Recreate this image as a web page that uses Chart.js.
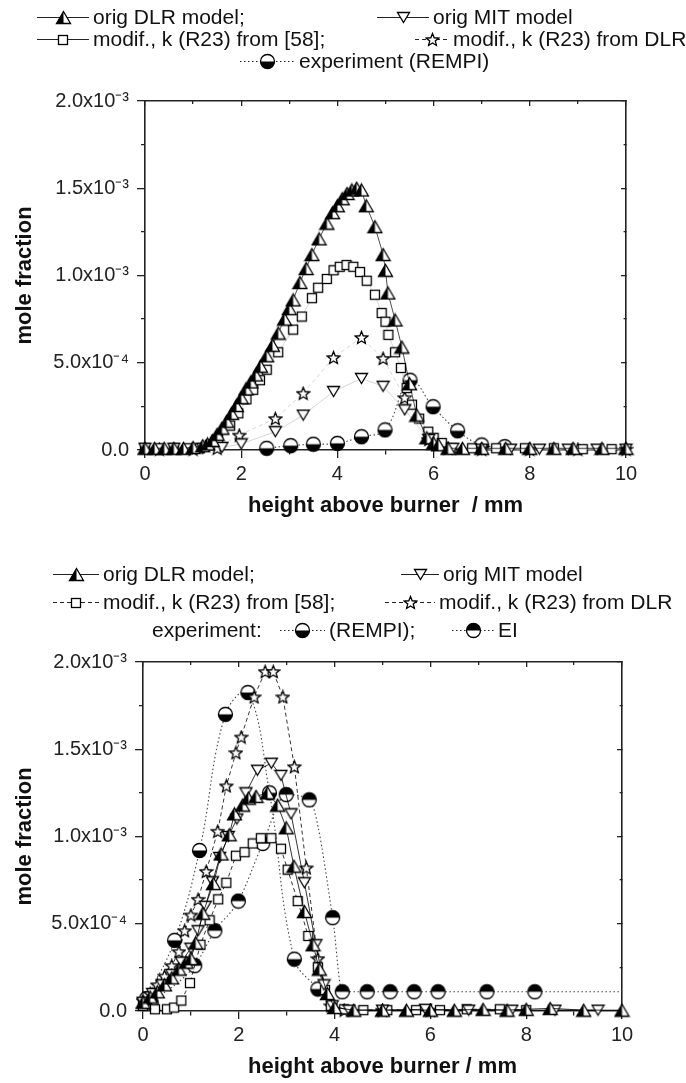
<!DOCTYPE html>
<html>
<head>
<meta charset="utf-8">
<title>mole fraction profiles</title>
<script src="https://cdn.jsdelivr.net/npm/chart.js@4.4.1/dist/chart.umd.min.js"></script>
<style>
  html, body { margin: 0; padding: 0; background: #fff; }
  body { position: relative; width: 686px; height: 1083px; overflow: hidden;
         font-family: 'Liberation Sans', Arial, Helvetica, sans-serif; color: #111; }
  canvas.chart { position: absolute; left: 0; }
  .leg { position: absolute; height: 24px; display: flex; align-items: center;
         font-size: 21px; white-space: nowrap; }
  .leg canvas { margin-right: 4px; }
</style>
</head>
<body>
<canvas id="topChart" class="chart" width="686" height="540" style="top:0"></canvas>
<canvas id="bottomChart" class="chart" width="686" height="543" style="top:540px"></canvas>
<script>
// y values below are in units of 1e-4 (mole fraction), x in mm

// upper panel
const dlr1X = [0, 0.2, 0.4, 0.6, 0.8, 1.0, 1.2, 1.3, 1.4, 1.5, 1.6, 1.7, 1.8, 1.9, 2.0, 2.1, 2.2, 2.3, 2.4, 2.53,
               2.65, 2.77, 2.9, 3.0, 3.08, 3.22, 3.35, 3.47, 3.62, 3.78, 3.9, 4.0, 4.1, 4.2, 4.3, 4.4, 4.5, 4.6, 4.78, 4.95,
               5.0, 5.05, 5.2, 5.34, 5.5, 5.65, 5.86, 6.0, 6.1, 6.3, 6.6, 7.0, 7.5, 8.0, 8.5, 8.9, 9.5, 10.0];
const dlr1Y = [0.1, 0.1, 0.1, 0.1, 0.1, 0.15, 0.25, 0.35, 0.55, 0.9, 1.25, 1.65, 2.1, 2.55, 3.0, 3.5, 3.9, 4.3, 4.8, 5.4,
               6.0, 6.7, 7.5, 8.1, 8.6, 9.6, 10.4, 11.2, 12.1, 13.0, 13.6, 14.0, 14.4, 14.7, 14.9, 15.0, 14.9, 14.0, 12.8, 11.2,
               10.3, 9.0, 7.45, 5.9, 3.8, 2.0, 0.7, 0.4, 0.3, 0.1, 0.1, 0.1, 0.1, 0.1, 0.1, 0.1, 0.1, 0.1];
const mit1X = [0, 0.6, 1.2, 1.6, 2.0, 2.71, 3.29, 3.92, 4.5, 4.95, 5.4, 5.9, 6.4, 7.0, 7.6, 8.2, 8.8, 9.4, 10.0];
const mit1Y = [0.1, 0.1, 0.1, 0.15, 0.35, 1.05, 2.0, 3.35, 4.1, 3.65, 2.3, 0.6, 0.1, 0.05, 0.05, 0.05, 0.05, 0.05, 0.05];
const sq1X = [0, 0.3, 0.6, 0.9, 1.14, 1.35, 1.52, 1.77, 1.94, 2.11, 2.25, 2.39, 2.53, 2.77, 3.08, 3.26, 3.47, 3.6, 3.78, 3.92,
              4.05, 4.19, 4.33, 4.47, 4.61, 4.78, 4.92, 5.0, 5.06, 5.2, 5.32, 5.44, 5.55, 5.7, 5.89, 6.0, 6.17, 6.37, 6.8, 7.3,
              7.9, 8.5, 9.1, 9.7];
const sq1Y = [0.1, 0.1, 0.1, 0.1, 0.1, 0.3, 0.6, 1.4, 2.1, 2.9, 3.45, 4.0, 4.6, 5.6, 6.9, 7.65, 8.7, 9.3, 9.8, 10.3,
              10.5, 10.6, 10.5, 10.2, 9.7, 8.9, 7.85, 7.35, 6.6, 5.6, 4.7, 3.55, 2.6, 1.8, 1.05, 0.7, 0.4, 0.1, 0.1, 0.1,
              0.1, 0.1, 0.05, 0.05];
const star1X = [0.3, 1.0, 1.5, 1.96, 2.71, 3.29, 3.92, 4.5, 4.95, 5.4, 5.9, 6.3, 7.0, 8.0, 9.0, 10.0];
const star1Y = [0.05, 0.05, 0.1, 0.85, 1.8, 3.25, 5.3, 6.45, 5.25, 3.0, 0.6, 0.1, 0.05, 0.05, 0.05, 0.05];
const rempi1X = [2.53, 3.03, 3.5, 4.0, 4.5, 4.99, 5.51, 5.99, 6.5, 7.0, 7.48];
const rempi1Y = [0.1, 0.25, 0.33, 0.38, 0.76, 1.15, 4.0, 2.48, 1.1, 0.29, 0.19];

// lower panel
const dlr2X = [0, 0.15, 0.3, 0.45, 0.6, 0.75, 0.9, 1.0, 1.1, 1.25, 1.47, 1.63, 1.8, 1.91, 2.08, 2.2, 2.36, 2.6, 2.81, 2.99,
               3.15, 3.37, 3.55, 3.68, 3.85, 4.0, 4.4, 5.0, 5.5, 6.0, 6.5, 7.1, 7.6, 8.0, 8.5, 9.2, 10.0];
const dlr2Y = [0.5, 0.8, 1.1, 1.5, 1.9, 2.4, 2.8, 3.0, 3.9, 5.6, 7.3, 9.0, 10.1, 11.3, 11.8, 12.2, 12.3, 12.5, 11.8, 10.5,
               8.3, 5.7, 3.8, 2.4, 1.0, 0.2, 0.05, 0.05, 0.05, 0.05, 0.05, 0.1, 0.05, 0.1, 0.15, 0.05, 0.05];
const mit2X = [0, 0.2, 0.4, 0.6, 0.8, 1.0, 1.15, 1.3, 1.45, 1.6, 1.78, 1.96, 2.15, 2.39, 2.68, 2.88, 3.09, 3.37, 3.61, 3.78,
               3.95, 4.3, 5.0, 5.9, 6.8, 7.7, 8.6, 9.5];
const mit2Y = [0.5, 1.0, 1.5, 2.1, 2.8, 3.6, 4.6, 6.0, 7.4, 8.8, 10.0, 11.0, 12.5, 13.8, 14.2, 13.5, 11.3, 7.35, 3.8, 1.5,
               0.3, 0.05, 0.05, 0.1, 0.05, 0.05, 0.05, 0.05];
const sq2X = [0, 0.25, 0.5, 0.65, 0.8, 0.98, 1.2, 1.39, 1.57, 1.74, 1.94, 2.12, 2.29, 2.46, 2.68, 2.88, 3.02, 3.23, 3.45, 3.65,
              3.8, 3.92, 4.2, 4.6, 5.1, 5.7, 6.2, 6.76, 7.45, 8.0];
const sq2Y = [0.3, 0.1, 0.1, 0.2, 0.6, 1.6, 3.8, 5.2, 6.4, 7.35, 8.9, 9.1, 9.6, 9.9, 9.9, 9.3, 8.1, 6.3, 4.3, 2.5,
              1.2, 0.3, 0.1, 0.05, 0.05, 0.05, 0.05, 0.1, 0.1, 0.05];
const star2X = [0, 0.15, 0.3, 0.45, 0.6, 0.75, 0.87, 1.0, 1.15, 1.32, 1.56, 1.74, 1.94, 2.05, 2.32, 2.55, 2.72, 2.92, 3.16, 3.41,
                3.65, 3.92, 4.2, 5.0, 6.0];
const star2Y = [0.6, 1.0, 1.5, 2.0, 2.6, 3.4, 4.6, 5.5, 6.4, 8.0, 10.3, 12.9, 14.8, 15.7, 18.0, 19.45, 19.45, 18.0, 14.0, 8.2,
                3.0, 0.3, 0.05, 0.05, 0.05];
const rempi2X = [0.07, 0.66, 1.18, 1.72, 2.19, 2.64, 3.16, 3.65];
const rempi2Y = [0.7, 4.05, 9.2, 17.0, 18.25, 12.5, 2.97, 1.26];
const ei2X = [0.17, 1.08, 1.5, 1.99, 2.5, 2.99, 3.47, 3.96, 4.16, 4.68, 5.16, 5.66, 6.16, 7.18, 8.18, 10.0];
const ei2Y = [0.5, 2.6, 4.6, 6.3, 9.6, 12.4, 12.1, 5.35, 1.1, 1.1, 1.1, 1.1, 1.1, 1.1, 1.1, 1.1];

const FONT = "'Liberation Sans', Arial, Helvetica, sans-serif";
const Y_STEP = 2.5e-4;

// ---- marker images ----
function marker(w, h, paint) {
  const c = document.createElement('canvas');
  c.width = w; c.height = h;
  const g = c.getContext('2d');
  g.lineWidth = 1.3; g.strokeStyle = '#000'; g.fillStyle = '#fff';
  paint(g, w, h);
  return c;
}
const triHalf = marker(17, 15, (g, w, h) => {
  const outline = () => { g.beginPath(); g.moveTo(w / 2, 1.5); g.lineTo(w - 1.5, h - 1.5); g.lineTo(1.5, h - 1.5); g.closePath(); };
  outline(); g.fill();
  g.fillStyle = '#000';
  g.beginPath(); g.moveTo(w / 2, 1.5); g.lineTo(w / 2, h - 1.5); g.lineTo(1.5, h - 1.5); g.closePath(); g.fill();
  outline(); g.stroke();
});
const triDown = marker(15, 13, (g, w, h) => {
  g.beginPath(); g.moveTo(1.5, 1.5); g.lineTo(w - 1.5, 1.5); g.lineTo(w / 2, h - 1.5); g.closePath();
  g.fill(); g.stroke();
});
const square = marker(12, 12, (g, w, h) => {
  g.fillRect(1.5, 1.5, w - 3, h - 3); g.strokeRect(1.5, 1.5, w - 3, h - 3);
});
const star = marker(15, 15, (g, w, h) => {
  g.beginPath();
  for (let i = 0; i < 10; i++) {
    const r = i % 2 ? 2.9 : 6.6, a = -Math.PI / 2 + i * Math.PI / 5;
    const px = w / 2 + r * Math.cos(a), py = h / 2 + 0.6 + r * Math.sin(a);
    if (i) g.lineTo(px, py); else g.moveTo(px, py);
  }
  g.closePath(); g.fill(); g.stroke();
});
function halfCircle(lowerDark) {
  return marker(17, 17, (g, w, h) => {
    const cx = w / 2, cy = h / 2, r = 7;
    g.beginPath(); g.arc(cx, cy, r, 0, Math.PI * 2); g.fill();
    g.fillStyle = '#000';
    g.beginPath();
    if (lowerDark) g.arc(cx, cy, r, 0, Math.PI); else g.arc(cx, cy, r, Math.PI, Math.PI * 2);
    g.closePath(); g.fill();
    g.beginPath(); g.arc(cx, cy, r, 0, Math.PI * 2); g.stroke();
  });
}
const circLow = halfCircle(true);
const circHigh = halfCircle(false);

const SOLID = [], DASHED = [4, 3], DOTTED = [1.5, 2.5];

// ---- axes ----
const isMinorX = v => Math.round(v) % 2 !== 0;
const isMinorY = v => Math.round(v / Y_STEP) % 2 !== 0;
function sup(n) {
  const m = {'-': '\u207B', '0': '\u2070', '1': '\u00B9', '2': '\u00B2', '3': '\u00B3', '4': '\u2074',
             '5': '\u2075', '6': '\u2076', '7': '\u2077', '8': '\u2078', '9': '\u2079'};
  return String(n).split('').map(c => m[c]).join('');
}
function yLabel(v) {
  if (isMinorY(v)) return '';
  if (Math.abs(v) < 1e-12) return '0.0';
  const e = Math.floor(Math.log10(v) + 1e-9);
  return (v / Math.pow(10, e)).toFixed(1) + 'x10' + sup(e);
}

function scalesFor(xTitle, yWidth, xHeight, xTitlePad) {
  const frame = { display: true, color: '#222', width: 1.6 };
  const tickFont = { family: FONT, size: 20 };
  const titleFont = { family: FONT, size: 22, weight: 'bold' };
  const minorDash = (test, dash) => c => (c.tick && test(c.tick.value) ? dash : []);
  return {
    x: {
      type: 'linear', position: 'bottom', min: 0, max: 10,
      border: frame,
      grid: { drawOnChartArea: false, color: '#222', lineWidth: 1.3, tickLength: 8,
              tickBorderDash: minorDash(isMinorX, [4, 100]) },
      ticks: { stepSize: 1, autoSkip: false, maxRotation: 0, color: '#222', font: tickFont, padding: 4,
               callback: v => (isMinorX(v) ? '' : String(v)) },
      title: { display: true, text: xTitle, color: '#111', font: titleFont, padding: { top: 0, bottom: xTitlePad } },
      afterFit: s => { s.height = xHeight; }
    },
    xTop: {
      type: 'linear', position: 'top', min: 0, max: 10,
      border: frame,
      grid: { drawOnChartArea: false, color: '#222', lineWidth: 1.3, tickLength: -5,
              tickBorderDash: minorDash(isMinorX, [0, 2, 3, 100]) },
      ticks: { stepSize: 1, display: false },
      afterFit: s => { s.height = 0; }
    },
    y: {
      type: 'linear', position: 'left', min: 0, max: 2e-3,
      border: frame,
      grid: { drawOnChartArea: false, color: '#222', lineWidth: 1.3, tickLength: 8,
              tickBorderDash: minorDash(isMinorY, [0, 4, 4, 100]) },
      ticks: { stepSize: Y_STEP, autoSkip: false, color: '#222', font: tickFont, padding: 8, callback: yLabel },
      title: { display: true, text: 'mole fraction', color: '#111', font: titleFont, padding: { top: 12, bottom: 0 } },
      afterFit: s => { s.width = yWidth; }
    },
    yRight: {
      type: 'linear', position: 'right', min: 0, max: 2e-3,
      border: frame,
      grid: { drawOnChartArea: false, color: '#222', lineWidth: 1.3, tickLength: -5,
              tickBorderDash: minorDash(isMinorY, [3, 100]) },
      ticks: { stepSize: Y_STEP, display: false },
      afterFit: s => { s.width = 0; }
    }
  };
}

function series(label, xs, ys, pointStyle, dash, extra) {
  return Object.assign({
    label,
    data: xs.map((x, i) => ({ x, y: ys[i] * 1e-4 })),
    pointStyle, pointRadius: 5,
    showLine: true, borderColor: '#000', borderWidth: 0.8, borderDash: dash,
    backgroundColor: '#fff', tension: 0, clip: false
  }, extra || {});
}

function panel(id, datasets, padTop, padRight, yWidth, xHeight, xTitle, xTitlePad) {
  return new Chart(document.getElementById(id), {
    type: 'scatter',
    data: { datasets },
    options: {
      responsive: false, animation: false, events: [],
      layout: { padding: { top: padTop, right: padRight, left: 0, bottom: 0 } },
      plugins: { legend: { display: false }, tooltip: { enabled: false } },
      scales: scalesFor(xTitle, yWidth, xHeight, xTitlePad)
    }
  });
}

const faint = { borderColor: '#bbb', borderWidth: 0.6 };
const dotted = { borderColor: '#444', borderWidth: 1.1, tension: 0.4 };

panel('topChart', [
  series('orig DLR model', dlr1X, dlr1Y, triHalf, SOLID, { borderWidth: 0.7 }),
  series('orig MIT model', mit1X, mit1Y, triDown, SOLID, faint),
  series('modif., k (R23) from [58]', sq1X, sq1Y, square, SOLID, faint),
  series('modif., k (R23) from DLR', star1X, star1Y, star, DASHED, faint),
  series('experiment (REMPI)', rempi1X, rempi1Y, circLow, DOTTED, dotted)
], 101, 60, 145, 90, 'height above burner  / mm', 21);

panel('bottomChart', [
  series('orig DLR model', dlr2X, dlr2Y, triHalf, SOLID),
  series('orig MIT model', mit2X, mit2Y, triDown, SOLID),
  series('modif., k (R23) from [58]', sq2X, sq2Y, square, DASHED),
  series('modif., k (R23) from DLR', star2X, star2Y, star, DASHED),
  series('experiment (REMPI)', rempi2X, rempi2Y, circLow, DOTTED, dotted),
  series('experiment EI', ei2X, ei2Y, circHigh, DOTTED, Object.assign({}, dotted, {
    cubicInterpolationMode: 'monotone',
    pointRadius: c => (c.dataIndex === ei2X.length - 1 ? 0 : 5)
  }))
], 122, 64, 143, 72, 'height above burner / mm', 3);

// ---- legends (HTML text with small line/marker samples) ----
function sample(w, dash, img) {
  const c = document.createElement('canvas');
  c.width = w; c.height = 24;
  const g = c.getContext('2d');
  g.strokeStyle = '#222'; g.lineWidth = 1.2; g.setLineDash(dash);
  g.beginPath(); g.moveTo(0, 12.5); g.lineTo(w, 12.5); g.stroke();
  g.drawImage(img, Math.round((w - img.width) / 2), Math.round(12.5 - img.height / 2));
  return c;
}
function legendItem(x, yc, w, dash, img, text) {
  const d = document.createElement('div');
  d.className = 'leg';
  d.style.left = x + 'px';
  d.style.top = (yc - 12) + 'px';
  if (img) d.appendChild(sample(w, dash, img));
  const s = document.createElement('span');
  s.textContent = text;
  d.appendChild(s);
  document.body.appendChild(d);
}

legendItem(37, 17, 52, SOLID, triHalf, 'orig DLR model;');
legendItem(377, 17, 52, SOLID, triDown, 'orig MIT model');
legendItem(37, 39, 52, SOLID, square, 'modif., k (R23) from [58];');
legendItem(415, 39, 34, DASHED, star, 'modif., k (R23) from DLR');
legendItem(240, 61, 55, DOTTED, circLow, 'experiment (REMPI)');

legendItem(53, 574, 46, SOLID, triHalf, 'orig DLR model;');
legendItem(401, 574, 38, SOLID, triDown, 'orig MIT model');
legendItem(53, 602, 46, DASHED, square, 'modif., k (R23) from [58];');
legendItem(385, 602, 50, DASHED, star, 'modif., k (R23) from DLR');
legendItem(152, 630, 0, null, null, 'experiment:');
legendItem(280, 630, 45, DOTTED, circLow, '(REMPI);');
legendItem(452, 630, 42, DOTTED, circHigh, 'EI');
</script>
</body>
</html>
